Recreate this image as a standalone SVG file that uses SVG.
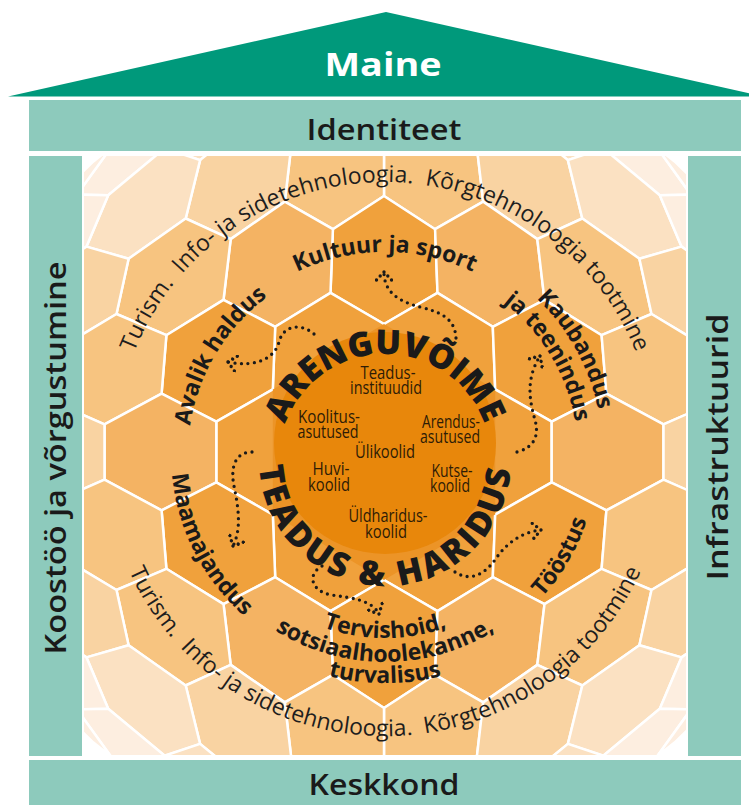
<svg xmlns="http://www.w3.org/2000/svg" width="749" height="805" viewBox="0 0 749 805">
<style>
.band{fill:#8dcabc}
.t1{fill:#f0a13c}.t2{fill:#f4b363}.t3{fill:#f7c480}.t4{fill:#f9d3a2}.t5{fill:#fbe1c2}.t6{fill:#fdeee0}
#tiles polygon{stroke:#fff;stroke-width:2.5;stroke-linejoin:round}
.lab{font-family:"Open Sans","Noto Sans",sans-serif;font-weight:700;font-size:23px;fill:#1a1a1a}
.big{font-family:"Open Sans","Noto Sans",sans-serif;font-weight:800;font-size:34px;fill:#1a1a1a}
.ring{font-family:"Open Sans","Noto Sans",sans-serif;font-size:23px;fill:#1e1e1e}
.inner{font-family:"Open Sans","Noto Sans",sans-serif;font-size:18px;fill:#2e1c06;text-anchor:middle}
.hd{font-family:"Open Sans","Noto Sans",sans-serif;font-size:28px;font-weight:600;fill:#1a1a1a;text-anchor:middle}
.dot{fill:none;stroke:#1a1a1a;stroke-width:3.3;stroke-linecap:round;stroke-dasharray:0 6.5}
</style>
<defs>
<clipPath id="area"><rect x="84" y="156" width="602" height="599"/></clipPath>
<marker id="dh" viewBox="-10 -9 12 18" refX="0" refY="0" markerWidth="12" markerHeight="18" orient="auto" markerUnits="userSpaceOnUse">
<circle cx="0" cy="0" r="1.7" fill="#1a1a1a"/><circle cx="-4" cy="-3.8" r="1.7" fill="#1a1a1a"/><circle cx="-8" cy="-7.5" r="1.7" fill="#1a1a1a"/><circle cx="-4" cy="3.8" r="1.7" fill="#1a1a1a"/><circle cx="-8" cy="7.5" r="1.7" fill="#1a1a1a"/>
</marker>
<path id="kp" d="M194.2,385.6 A203,203 0 0 1 575.8,385.6"/>
<path id="ap" d="M231.9,579 A197,197 0 0 1 422.6,261.6"/>
<path id="kbp" d="M350.9,239.7 A218,218 0 0 1 549.5,598"/>
<path id="jtp" d="M348.2,265.5 A193,193 0 0 1 535,576.5"/>
<path id="mp" d="M228.5,309.1 A214,214 0 0 0 411.1,667.4"/>
<path id="tp" d="M348.2,663.8 A212,212 0 0 0 547.4,318.7"/>
<path id="t1p" d="M213,517.6 A183,183 0 0 0 557,517.6"/>
<path id="t2p" d="M190.5,525.8 A207,207 0 0 0 579.5,525.8"/>
<path id="t3p" d="M170.7,533 A228,228 0 0 0 599.3,533"/>
<path id="arp" d="M285.4,496.3 A106,106 0 1 1 484.6,496.3"/>
<path id="thp" d="M266.6,416.9 A126,126 0 1 0 503.4,416.9"/>
<path id="rtop" d="M119.1,498.9 A270,270 0 1 1 650.9,498.9"/>
<path id="rbot" d="M108.3,406.2 A281,281 0 1 0 661.7,406.2"/>
</defs>
<rect width="749" height="805" fill="#fff"/>
<g id="maine">
<polygon points="8,96.5 386,12 764,96.5" fill="#00997b"/>
<text x="383" y="76" font-family="Open Sans, Noto Sans, sans-serif" font-size="32" font-weight="700" fill="#fff" text-anchor="middle" textLength="117" lengthAdjust="spacingAndGlyphs">Maine</text>
</g>
<g id="identiteet">
<rect class="band" x="29" y="100" width="712" height="51"/>
<text class="hd" x="384" y="140" textLength="155" lengthAdjust="spacingAndGlyphs">Identiteet</text>
</g>
<g id="koostoo">
<rect class="band" x="29" y="156" width="53" height="600"/>
<text class="hd" transform="translate(66,458) rotate(-90)" textLength="393" lengthAdjust="spacingAndGlyphs">Koostöö ja võrgustumine</text>
</g>
<g id="infrastruktuurid">
<rect class="band" x="688" y="156" width="53" height="600"/>
<text class="hd" transform="translate(728,447) rotate(-90)" textLength="267" lengthAdjust="spacingAndGlyphs">Infrastruktuurid</text>
</g>
<g id="keskkond">
<rect class="band" x="29" y="760" width="712" height="45"/>
<text class="hd" x="384" y="795" textLength="151" lengthAdjust="spacingAndGlyphs">Keskkond</text>
</g>
<g id="tiles" clip-path="url(#area)">
<polygon class="t5" points="529.3,43.3 579.2,93.1 603.3,148.3 567.9,160.1 515.6,117.4 501.1,56.5"/>
<polygon class="t5" points="238.7,43.3 188.8,93.1 164.7,148.3 200.1,160.1 252.4,117.4 266.9,56.5"/>
<polygon class="t6" points="602,92.5 657.3,147.9 691,194.7 659.8,195.2 603.3,148.3 579.2,93.1"/>
<polygon class="t6" points="166,92.5 110.7,147.9 77,194.7 108.2,195.2 164.7,148.3 188.8,93.1"/>
<polygon class="t6" points="674.6,161.4 735.4,220.9 778.7,256.5 751.7,244.4 691,194.7 657.3,147.9"/>
<polygon class="t6" points="93.4,161.4 32.6,220.9 -10.7,256.5 16.3,244.4 77,194.7 110.7,147.9"/>
<polygon class="t3" points="427.9,101.9 475.9,139 483.2,201.6 435.1,229.2 384,196 384,132"/>
<polygon class="t3" points="340.1,101.9 292.1,139 284.8,201.6 332.9,229.2 384,196 384,132"/>
<polygon class="t4" points="515.6,117.4 567.9,160.1 582.3,218.5 537.3,239.1 483.2,201.6 475.9,139"/>
<polygon class="t4" points="252.4,117.4 200.1,160.1 185.7,218.5 230.7,239.1 284.8,201.6 292.1,139"/>
<polygon class="t5" points="603.3,148.3 659.8,195.2 681.5,246.6 639.4,258.7 582.3,218.5 567.9,160.1"/>
<polygon class="t5" points="164.7,148.3 108.2,195.2 86.5,246.6 128.6,258.7 185.7,218.5 200.1,160.1"/>
<polygon class="t6" points="691,194.7 751.7,244.4 780.6,285.9 741.6,288.2 681.5,246.6 659.8,195.2"/>
<polygon class="t6" points="77,194.7 16.3,244.4 -12.6,285.9 26.4,288.2 86.5,246.6 108.2,195.2"/>
<polygon class="t1" points="384,196 435.1,229.2 437.5,292.9 384,324 330.5,292.9 332.9,229.2"/>
<polygon class="t2" points="483.2,201.6 537.3,239.1 544.5,299.9 492.8,326.8 437.5,292.9 435.1,229.2"/>
<polygon class="t2" points="284.8,201.6 230.7,239.1 223.5,299.9 275.2,326.8 330.5,292.9 332.9,229.2"/>
<polygon class="t3" points="582.3,218.5 639.4,258.7 651.5,314 601.6,335.2 544.5,299.9 537.3,239.1"/>
<polygon class="t3" points="185.7,218.5 128.6,258.7 116.5,314 166.4,335.2 223.5,299.9 230.7,239.1"/>
<polygon class="t4" points="681.5,246.6 741.6,288.2 758.4,335 710.4,349.3 651.5,314 639.4,258.7"/>
<polygon class="t4" points="86.5,246.6 26.4,288.2 9.6,335 57.6,349.3 116.5,314 128.6,258.7"/>
<polygon class="t1" points="437.5,292.9 492.8,326.8 495.2,389.4 439.9,420.2 384,388 384,324"/>
<polygon class="t1" points="330.5,292.9 275.2,326.8 272.8,389.4 328.1,420.2 384,388 384,324"/>
<polygon class="t1" points="544.5,299.9 601.6,335.2 606.4,393.6 551.7,421.6 495.2,389.4 492.8,326.8"/>
<polygon class="t1" points="223.5,299.9 166.4,335.2 161.6,393.6 216.3,421.6 272.8,389.4 275.2,326.8"/>
<polygon class="t3" points="651.5,314 710.4,349.3 717.6,400.6 663.5,424.4 606.4,393.6 601.6,335.2"/>
<polygon class="t3" points="116.5,314 57.6,349.3 50.4,400.6 104.5,424.4 161.6,393.6 166.4,335.2"/>
<polygon class="t1" points="384,388 439.9,420.2 439.9,483.8 384,516 328.1,483.8 328.1,420.2"/>
<polygon class="t1" points="495.2,389.4 551.7,421.6 551.7,482.4 495.2,514.6 439.9,483.8 439.9,420.2"/>
<polygon class="t1" points="272.8,389.4 216.3,421.6 216.3,482.4 272.8,514.6 328.1,483.8 328.1,420.2"/>
<polygon class="t2" points="606.4,393.6 663.5,424.4 663.5,479.6 606.4,510.4 551.7,482.4 551.7,421.6"/>
<polygon class="t2" points="161.6,393.6 104.5,424.4 104.5,479.6 161.6,510.4 216.3,482.4 216.3,421.6"/>
<polygon class="t4" points="717.6,400.6 775.3,428.6 775.3,475.4 717.6,503.4 663.5,479.6 663.5,424.4"/>
<polygon class="t4" points="50.4,400.6 -7.3,428.6 -7.3,475.4 50.4,503.4 104.5,479.6 104.5,424.4"/>
<polygon class="t1" points="437.5,611.1 492.8,577.2 495.2,514.6 439.9,483.8 384,516 384,580"/>
<polygon class="t1" points="330.5,611.1 275.2,577.2 272.8,514.6 328.1,483.8 384,516 384,580"/>
<polygon class="t1" points="544.5,604.1 601.6,568.8 606.4,510.4 551.7,482.4 495.2,514.6 492.8,577.2"/>
<polygon class="t1" points="223.5,604.1 166.4,568.8 161.6,510.4 216.3,482.4 272.8,514.6 275.2,577.2"/>
<polygon class="t3" points="651.5,590 710.4,554.7 717.6,503.4 663.5,479.6 606.4,510.4 601.6,568.8"/>
<polygon class="t3" points="116.5,590 57.6,554.7 50.4,503.4 104.5,479.6 161.6,510.4 166.4,568.8"/>
<polygon class="t1" points="384,708 435.1,674.8 437.5,611.1 384,580 330.5,611.1 332.9,674.8"/>
<polygon class="t2" points="483.2,702.4 537.3,664.9 544.5,604.1 492.8,577.2 437.5,611.1 435.1,674.8"/>
<polygon class="t2" points="284.8,702.4 230.7,664.9 223.5,604.1 275.2,577.2 330.5,611.1 332.9,674.8"/>
<polygon class="t3" points="582.3,685.5 639.4,645.3 651.5,590 601.6,568.8 544.5,604.1 537.3,664.9"/>
<polygon class="t3" points="185.7,685.5 128.6,645.3 116.5,590 166.4,568.8 223.5,604.1 230.7,664.9"/>
<polygon class="t4" points="681.5,657.4 741.6,615.8 758.4,569 710.4,554.7 651.5,590 639.4,645.3"/>
<polygon class="t4" points="86.5,657.4 26.4,615.8 9.6,569 57.6,554.7 116.5,590 128.6,645.3"/>
<polygon class="t3" points="427.9,802.1 475.9,765 483.2,702.4 435.1,674.8 384,708 384,772"/>
<polygon class="t3" points="340.1,802.1 292.1,765 284.8,702.4 332.9,674.8 384,708 384,772"/>
<polygon class="t4" points="515.6,786.6 567.9,743.9 582.3,685.5 537.3,664.9 483.2,702.4 475.9,765"/>
<polygon class="t4" points="252.4,786.6 200.1,743.9 185.7,685.5 230.7,664.9 284.8,702.4 292.1,765"/>
<polygon class="t5" points="603.3,755.7 659.8,708.8 681.5,657.4 639.4,645.3 582.3,685.5 567.9,743.9"/>
<polygon class="t5" points="164.7,755.7 108.2,708.8 86.5,657.4 128.6,645.3 185.7,685.5 200.1,743.9"/>
<polygon class="t6" points="691,709.3 751.7,659.6 780.6,618.1 741.6,615.8 681.5,657.4 659.8,708.8"/>
<polygon class="t6" points="77,709.3 16.3,659.6 -12.6,618.1 26.4,615.8 86.5,657.4 108.2,708.8"/>
<polygon class="t5" points="529.3,860.7 579.2,810.9 603.3,755.7 567.9,743.9 515.6,786.6 501.1,847.5"/>
<polygon class="t5" points="238.7,860.7 188.8,810.9 164.7,755.7 200.1,743.9 252.4,786.6 266.9,847.5"/>
<polygon class="t6" points="602,811.5 657.3,756.1 691,709.3 659.8,708.8 603.3,755.7 579.2,810.9"/>
<polygon class="t6" points="166,811.5 110.7,756.1 77,709.3 108.2,708.8 164.7,755.7 188.8,810.9"/>
<polygon class="t6" points="674.6,742.6 735.4,683.1 778.7,647.5 751.7,659.6 691,709.3 657.3,756.1"/>
<polygon class="t6" points="93.4,742.6 32.6,683.1 -10.7,647.5 16.3,659.6 77,709.3 110.7,756.1"/>
</g>
<g id="core">
<polygon points="384,324 495.2,389.4 495.2,514.6 384,580 272.8,514.6 272.8,389.4" fill="#ec9427"/>
<circle cx="385" cy="443" r="111" fill="#e8870b"/>
</g>
<g id="ring-text" class="ring">
<text xml:space="preserve"><textPath href="#rtop" startOffset="50%" text-anchor="middle">Turism.  Info- ja sidetehnoloogia.  Kõrgtehnoloogia tootmine</textPath></text>
<text xml:space="preserve"><textPath href="#rbot" startOffset="50%" text-anchor="middle">Turism.  Info- ja sidetehnoloogia.  Kõrgtehnoloogia tootmine</textPath></text>
</g>
<g id="connectors">
<path class="dot" d="M456,338 C455,318 440,312 420,307 C398,301 384,292 384,272" marker-end="url(#dh)"/>
<path class="dot" d="M314,334 C300,322 283,326 279,342 C275,357 258,368 228,362" marker-end="url(#dh)"/>
<path class="dot" d="M517,452 C532,448 540,438 535,420 C530,402 525,380 540,356" marker-end="url(#dh)"/>
<path class="dot" d="M252,452 C236,452 230,466 234,486 C238,506 242,528 233,546" marker-end="url(#dh)"/>
<path class="dot" d="M322,566 C306,575 312,592 332,595 C352,598 372,600 379,614" marker-end="url(#dh)"/>
<path class="dot" d="M455,572 C470,582 485,575 497,557 C507,543 522,532 541,530" marker-end="url(#dh)"/>
</g>
<g id="kultuur"><text class="lab"><textPath href="#kp" startOffset="50%" text-anchor="middle">Kultuur ja sport</textPath></text></g>
<g id="avalik"><text class="lab"><textPath href="#ap" startOffset="50%" text-anchor="middle">Avalik haldus</textPath></text></g>
<g id="kaubandus"><text class="lab"><textPath href="#kbp" startOffset="50%" text-anchor="middle">Kaubandus</textPath></text><text class="lab"><textPath href="#jtp" startOffset="50%" text-anchor="middle">ja teenindus</textPath></text></g>
<g id="maamajandus"><text class="lab"><textPath href="#mp" startOffset="50%" text-anchor="middle">Maamajandus</textPath></text></g>
<g id="toostus"><text class="lab"><textPath href="#tp" startOffset="50%" text-anchor="middle">Tööstus</textPath></text></g>
<g id="tervishoid"><text class="lab"><textPath href="#t1p" startOffset="50%" text-anchor="middle">Tervishoid,</textPath></text><text class="lab"><textPath href="#t2p" startOffset="50%" text-anchor="middle">sotsiaalhoolekanne,</textPath></text><text class="lab"><textPath href="#t3p" startOffset="50%" text-anchor="middle">turvalisus</textPath></text></g>
<g id="arenguvoime"><text class="big"><textPath href="#arp" startOffset="50%" text-anchor="middle">ARENGUVÕIME</textPath></text></g>
<g id="teadus-haridus"><text class="big" letter-spacing="3"><textPath href="#thp" startOffset="50%" text-anchor="middle">TEADUS &amp; HARIDUS</textPath></text></g>
<g id="institutions" class="inner">
<text x="388" y="379" textLength="55" lengthAdjust="spacingAndGlyphs">Teadus-</text><text x="386" y="394" textLength="72" lengthAdjust="spacingAndGlyphs">instituudid</text>
<text x="329" y="423" textLength="62" lengthAdjust="spacingAndGlyphs">Koolitus-</text><text x="328" y="438" textLength="61" lengthAdjust="spacingAndGlyphs">asutused</text>
<text x="451" y="428" textLength="58" lengthAdjust="spacingAndGlyphs">Arendus-</text><text x="450" y="443" textLength="60" lengthAdjust="spacingAndGlyphs">asutused</text>
<text x="385" y="458" textLength="60" lengthAdjust="spacingAndGlyphs">Ülikoolid</text>
<text x="331" y="475" textLength="37" lengthAdjust="spacingAndGlyphs">Huvi-</text><text x="329" y="491" textLength="42" lengthAdjust="spacingAndGlyphs">koolid</text>
<text x="452" y="477" textLength="41" lengthAdjust="spacingAndGlyphs">Kutse-</text><text x="450" y="492" textLength="40" lengthAdjust="spacingAndGlyphs">koolid</text>
<text x="388" y="522" textLength="79" lengthAdjust="spacingAndGlyphs">Üldharidus-</text><text x="386" y="538" textLength="42" lengthAdjust="spacingAndGlyphs">koolid</text>
</g>
</svg>
